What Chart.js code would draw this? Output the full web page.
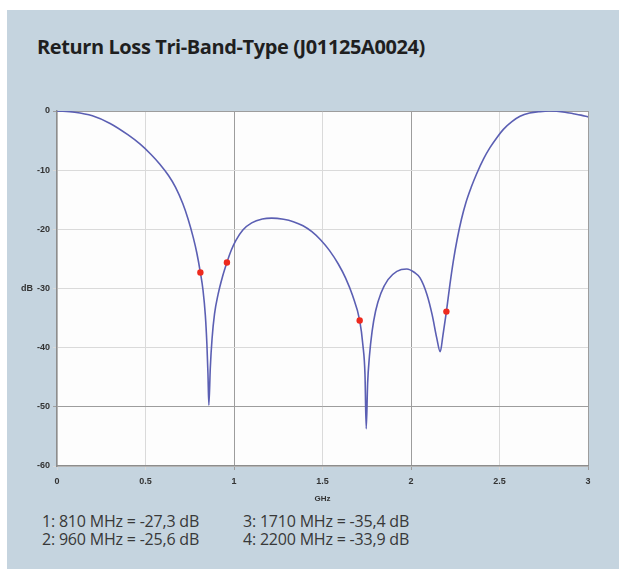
<!DOCTYPE html>
<html>
<head>
<meta charset="utf-8">
<script src="https://cdn.jsdelivr.net/npm/chart.js@4.4.1/dist/chart.umd.min.js"></script>
<style>
  html, body { margin: 0; padding: 0; background: #ffffff; }
  body { width: 619px; height: 569px; position: relative; overflow: hidden; }
  #panel { position: absolute; left: 7px; top: 10px; right: 0; bottom: 0; background: #c5d4df; }
  #title {
    position: absolute; left: 37px; top: 33px;
    font: bold 20px "Open Sans", "Noto Sans", sans-serif; color: #1f1f1f; letter-spacing: -0.4px;
  }
  #chartBox { position: absolute; left: 0; top: 100px; width: 619px; height: 410px; }
  #notes { position: absolute; left: 42px; top: 512px; font: 16px "Open Sans", "Noto Sans", sans-serif; color: #383838; }
  #notes .col { position: absolute; top: 0; white-space: nowrap; line-height: 18px; letter-spacing: -0.2px; }
</style>
</head>
<body>
<div id="panel"></div>
<div id="title">Return Loss Tri-Band-Type (J01125A0024)</div>
<div id="chartBox"><canvas id="rlChart" width="619" height="410"></canvas></div>
<div id="notes"></div>
<script>
// measured return loss trace
const freqGHz = [
  0, 0.1, 0.2, 0.3, 0.4, 0.47, 0.53, 0.58, 0.63, 0.67,
  0.71, 0.74, 0.77, 0.79, 0.81, 0.825, 0.838, 0.847, 0.853, 0.858,
  0.866, 0.876, 0.89, 0.91, 0.935, 0.96, 0.985, 1.01, 1.05, 1.10,
  1.16, 1.213, 1.28, 1.335, 1.39, 1.44, 1.49, 1.54, 1.59, 1.63,
  1.67, 1.71, 1.728, 1.74, 1.747, 1.755, 1.765, 1.78, 1.80, 1.83,
  1.87, 1.92, 1.976, 2.02, 2.051, 2.09, 2.12, 2.145, 2.165, 2.18,
  2.2, 2.22, 2.24, 2.26, 2.285, 2.31, 2.34, 2.371, 2.41, 2.446,
  2.49, 2.522, 2.57, 2.616, 2.67, 2.729, 2.78, 2.823, 2.87, 2.917,
  2.96, 3.0
];
const returnLossDb = [
  0, -0.2, -0.8, -2.1, -4.0, -5.6, -7.3, -8.95, -10.9, -12.9,
  -15.6, -18.2, -21.4, -24.0, -27.3, -30.3, -34.5, -39.5, -44.5, -49.7,
  -43.5, -38.5, -34.3, -31.0, -28.0, -25.6, -23.5, -21.9, -20.1, -18.9,
  -18.25, -18.1, -18.3, -18.7, -19.4, -20.4, -21.8, -23.6, -25.9, -28.2,
  -31.2, -35.4, -39.5, -44.5, -53.7, -46.0, -41.5, -37.3, -33.8, -30.8,
  -28.5, -27.1, -26.7, -27.3, -28.2, -31.0, -34.5, -38.3, -40.7, -38.0,
  -33.9, -29.3, -25.2, -21.8, -18.3, -15.5, -12.9, -10.6, -8.1, -6.2,
  -4.3, -3.1, -1.8, -0.9, -0.35, -0.1, 0, -0.05, -0.2, -0.45,
  -0.7, -1.0
];

// marker readouts
const markerFreqMHz = [810, 960, 1710, 2200];
const markerDb = [-27.3, -25.6, -35.4, -33.9];

const xTicks = [0, 0.5, 1, 1.5, 2, 2.5, 3];
const yTicks = [0, -10, -20, -30, -40, -50, -60];

const GRID_LIGHT = '#dadada';
const GRID_DARK = '#9d9d9d';
const AXIS_COLOR = '#8d8d8d';
const TICK_FONT = { family: '"Liberation Sans", Arial, sans-serif', size: 9, weight: 'bold' };

function byId(id) {
  return document.getElementById(id);
}

function formatDb(value) {
  return value.toFixed(1).replace('.', ',');
}

function renderNotes() {
  const lines = markerFreqMHz.map((mhz, i) => `${i + 1}: ${mhz} MHz = ${formatDb(markerDb[i])} dB`);
  const left = document.createElement('div');
  left.className = 'col';
  left.style.left = '0px';
  left.innerHTML = lines.slice(0, 2).join('<br>');
  const right = document.createElement('div');
  right.className = 'col';
  right.style.left = '201px';
  right.innerHTML = lines.slice(2).join('<br>');
  byId('notes').append(left, right);
}

// white plotting field on the tinted panel
const plotBackground = {
  id: 'plotBackground',
  beforeDraw(chart) {
    const { ctx, chartArea } = chart;
    ctx.save();
    ctx.fillStyle = '#fdfdfd';
    ctx.fillRect(chartArea.left, chartArea.top, chartArea.right - chartArea.left, chartArea.bottom - chartArea.top);
    ctx.restore();
  }
};

// "dB" sits just left of the -30 tick label
const unitLabel = {
  id: 'unitLabel',
  afterDraw(chart) {
    const { ctx } = chart;
    const y = chart.scales.y;
    ctx.save();
    ctx.font = 'bold 9px "Liberation Sans", Arial, sans-serif';
    ctx.fillStyle = '#333';
    ctx.textAlign = 'right';
    ctx.textBaseline = 'middle';
    ctx.fillText('dB', 33, y.getPixelForValue(-30));
    ctx.restore();
  }
};

function gridColor(darkValues) {
  return (context) => {
    const value = context.tick ? context.tick.value : null;
    return darkValues.includes(value) ? GRID_DARK : GRID_LIGHT;
  };
}

function renderChart() {
  const curve = freqGHz.map((f, i) => ({ x: f, y: returnLossDb[i] }));
  const markers = markerFreqMHz.map((mhz, i) => ({ x: mhz / 1000, y: markerDb[i] }));

  new Chart(byId('rlChart'), {
    type: 'line',
    data: {
      datasets: [
        {
          label: 'Markers',
          data: markers,
          showLine: false,
          pointRadius: 3.2,
          pointBackgroundColor: '#ee2a1e',
          pointBorderWidth: 0
        },
        {
          label: 'Return loss',
          data: curve,
          borderColor: '#5b5fb3',
          borderWidth: 1.6,
          pointRadius: 0,
          cubicInterpolationMode: 'monotone',
          fill: false
        }
      ]
    },
    options: {
      responsive: false,
      animation: false,
      layout: { padding: { top: 11, right: 31, left: 0, bottom: 0 } },
      plugins: { legend: { display: false }, tooltip: { enabled: false } },
      scales: {
        x: {
          type: 'linear',
          min: 0,
          max: 3,
          afterBuildTicks(scale) { scale.ticks = xTicks.map((value) => ({ value })); },
          afterFit(scale) { scale.height = 44; },
          ticks: { font: TICK_FONT, color: '#333', padding: 6, maxRotation: 0, callback: (value) => String(value) },
          grid: { color: gridColor([1, 2, 3]), tickLength: 4, lineWidth: 1 },
          border: { color: AXIS_COLOR, width: 1.5 },
          title: {
            display: true,
            text: 'GHz',
            font: { ...TICK_FONT, size: 8 },
            color: '#333',
            padding: { top: 0, bottom: 6 }
          }
        },
        y: {
          min: -60,
          max: 0,
          afterBuildTicks(scale) { scale.ticks = yTicks.map((value) => ({ value })); },
          afterFit(scale) { scale.width = 57; },
          ticks: { font: TICK_FONT, color: '#333', padding: 3, callback: (value) => String(value) },
          grid: { color: gridColor([-50, 0]), tickLength: 4, lineWidth: 1 },
          border: { color: AXIS_COLOR, width: 1.5 }
        }
      }
    },
    plugins: [plotBackground, unitLabel]
  });
}

renderNotes();
renderChart();
</script>
</body>
</html>
